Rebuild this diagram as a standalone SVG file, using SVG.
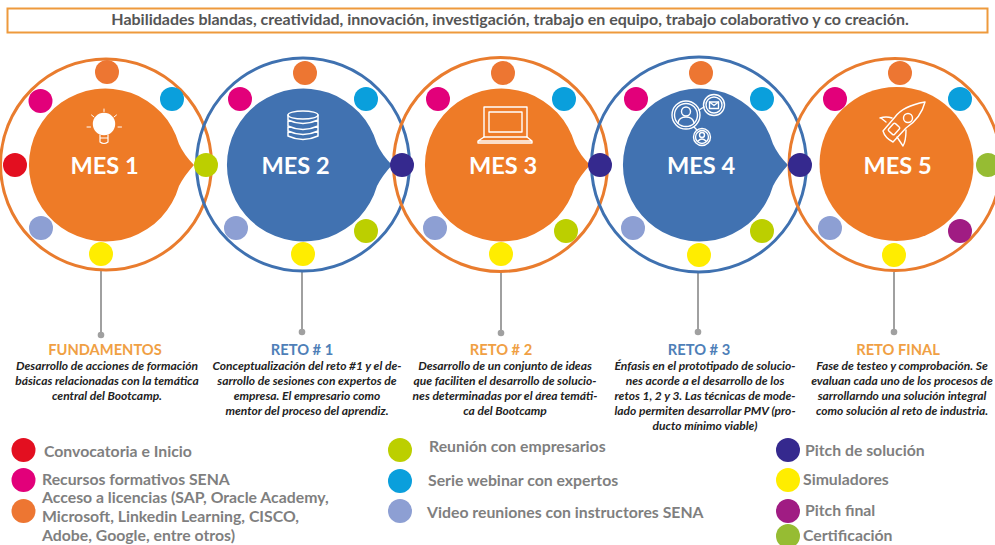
<svg xmlns="http://www.w3.org/2000/svg" width="995" height="545" viewBox="0 0 995 545">
<style>
text{font-family:"Lato","Open Sans","Liberation Sans",sans-serif}
.ro{fill:none;stroke:#e97c2e;stroke-width:3}
.rb{fill:none;stroke:#3f71b0;stroke-width:3}
.fo{fill:#ee7b27}.fb{fill:#4172b1}
.mes{font-size:23.6px;font-weight:700;fill:#fff;text-anchor:middle}
.h{font-size:14.7px;font-weight:700;text-anchor:middle}
.ho{fill:#f0a044}.hb{fill:#4f7fb8}
.d{font-size:12px;font-weight:700;font-style:italic;fill:#222;text-anchor:middle}
.l{font-size:15.8px;font-weight:700;fill:#7f7f7f}
.ic{fill:none;stroke:#fff;stroke-width:1.4;stroke-linecap:round;stroke-linejoin:round}
.stem{stroke:#a0a0a0;stroke-width:2;fill:none}
.red{fill:#e30f20}.mag{fill:#e2007a}.ora{fill:#ed7632}.cya{fill:#0a9fdc}.lim{fill:#bccf00}.nav{fill:#35298e}.yel{fill:#ffed00}.per{fill:#8d9fd3}.pur{fill:#a01c83}.grn{fill:#96bc33}
</style>
<defs>
<path id="tear" d="M73,-20A76.5,76.5 0 1 0 73,22Q78,12 88,1Q78,-9 73,-20Z"/>
<circle id="dot" r="12"/>
<circle id="ldot" r="12"/>
<circle id="pin" r="3.3" fill="#a0a0a0"/>
</defs>

<rect id="banner" x="7.5" y="8.5" width="980" height="24" fill="#fff" stroke="#ee9a3c" stroke-width="2"/>
<text x="510" y="25" font-size="16" font-weight="700" fill="#555" text-anchor="middle">Habilidades blandas, creatividad, innovación, investigación, trabajo en equipo, trabajo colaborativo y co creación.</text>

<g id="connectors">
<path class="stem" d="M101,270V335M302,271V335M501,271V335M698,272V335M894,272V335"/>
<use href="#pin" x="101" y="335"/><use href="#pin" x="302" y="332"/><use href="#pin" x="501" y="333"/><use href="#pin" x="698" y="332"/><use href="#pin" x="894" y="332"/>
</g>

<g id="mes1">
<circle class="ro" cx="106" cy="164.5" r="105.5"/>
<use href="#tear" class="fo" x="106" y="164"/>
<g class="ic">
<circle cx="104" cy="124" r="10.5" fill="#fff"/>
<path d="M100,135V142Q104,145 108,142V135M100,138H108" stroke-width="1.2"/>
<path d="M104,109V111.5M91.5,115L94,117M116.5,115L114,117M87,127H90.5M118,127H121.5" stroke-width="1"/>
</g>
<text class="mes" x="104.500" y="174">MES 1</text>
</g>

<g id="mes2">
<circle class="rb" cx="303" cy="164.500" r="106.500"/>
<use href="#tear" class="fb" x="304" y="164"/>
<g class="ic">
<ellipse cx="303" cy="115" rx="15" ry="4"/>
<path d="M288,115V136Q303,143 318,136V115M288,120Q303,127 318,120M288,126Q303,133 318,126M288,131Q303,138 318,131" stroke-width="1.5"/>
</g>
<text class="mes" x="295.500" y="174">MES 2</text>
</g>

<g id="mes3">
<circle class="ro" cx="500.500" cy="164.500" r="107"/>
<use href="#tear" class="fo" x="502" y="164"/>
<g class="ic" stroke-width="1.3">
<rect x="484" y="107" width="43" height="30"/>
<rect x="489" y="112" width="33" height="20"/>
<path d="M484,137L478,141V143H532V141L527,137M478,141H532"/>
</g>
<text class="mes" x="503" y="174">MES 3</text>
</g>

<g id="mes4">
<circle class="rb" cx="699" cy="164.500" r="107.500"/>
<use href="#tear" class="fb" x="700" y="164"/>
<g class="ic" stroke-width="1">
<circle cx="686" cy="115" r="14"/><circle cx="686" cy="115" r="11.5"/>
<circle cx="686" cy="111.5" r="4.5"/><path d="M678,123Q679,117 686,117Q693,117 694,123"/>
<circle cx="714" cy="105" r="10.5"/><circle cx="714" cy="105" r="8"/>
<rect x="709.5" y="102" width="9" height="6.5"/><path d="M709.5,102L714,105.5L718.5,102"/>
<circle cx="702" cy="137" r="8.5"/><circle cx="702" cy="137" r="6.5"/>
<circle cx="702" cy="135" r="2.5"/><path d="M698,141Q702,137 706,141"/>
<path d="M699,110L704,107M694,127L697,130"/>
</g>
<text class="mes" x="701" y="174">MES 4</text>
</g>

<g id="mes5">
<circle class="ro" cx="895" cy="164.500" r="106"/>
<circle class="fo" cx="896.500" cy="164" r="77"/>
<g class="ic" stroke-width="1.5">
<path d="M925,102Q903,106 895,117L883,131Q885,138 893,142L906,128Q921,118 925,102Z"/>
<circle cx="908" cy="118" r="4.5"/>
<rect x="890" y="124" width="8" height="10" rx="1.5" transform="rotate(42 894 129)"/>
<path d="M886,122L881,118L880,118Q886,116 892,118M897,137L903,146Q906,141 906,130"/>
</g>
<text class="mes" x="897.500" y="174">MES 5</text>
</g>

<g id="dots">
<use href="#dot" class="ora" x="107" y="72"/><use href="#dot" class="mag" x="40.500" y="101"/><use href="#dot" class="cya" x="172" y="99"/><use href="#dot" class="red" x="15" y="165"/><use href="#dot" class="lim" x="206" y="165"/><use href="#dot" class="per" x="41" y="228"/><use href="#dot" class="yel" x="101" y="254"/>
<use href="#dot" class="ora" x="305" y="73"/><use href="#dot" class="mag" x="240" y="99"/><use href="#dot" class="cya" x="366" y="99"/><use href="#dot" class="nav" x="402" y="165"/><use href="#dot" class="per" x="236" y="228"/><use href="#dot" class="lim" x="366" y="231"/><use href="#dot" class="yel" x="303" y="254"/>
<use href="#dot" class="ora" x="503" y="73"/><use href="#dot" class="mag" x="438" y="99"/><use href="#dot" class="cya" x="564" y="99"/><use href="#dot" class="nav" x="600" y="165"/><use href="#dot" class="per" x="435" y="228"/><use href="#dot" class="lim" x="566" y="231"/><use href="#dot" class="yel" x="501" y="254"/>
<use href="#dot" class="ora" x="701" y="73"/><use href="#dot" class="mag" x="636" y="99"/><use href="#dot" class="cya" x="762" y="99"/><use href="#dot" class="nav" x="800" y="165"/><use href="#dot" class="per" x="633" y="228"/><use href="#dot" class="lim" x="762" y="231"/><use href="#dot" class="yel" x="699" y="255"/>
<use href="#dot" class="ora" x="900" y="73"/><use href="#dot" class="mag" x="835" y="99"/><use href="#dot" class="cya" x="960" y="99"/><use href="#dot" class="grn" x="988" y="165"/><use href="#dot" class="per" x="830" y="228"/><use href="#dot" class="pur" x="960" y="231"/><use href="#dot" class="yel" x="894" y="255"/>
</g>

<g id="fundamentos">
<text class="h ho" x="105" y="355">FUNDAMENTOS</text>
<text class="d"><tspan x="107" y="370">Desarrollo de acciones de formación</tspan><tspan x="107" y="385">básicas relacionadas con la temática</tspan><tspan x="107" y="400">central del Bootcamp.</tspan></text>
</g>
<g id="reto1">
<text class="h hb" x="302" y="355">RETO # 1</text>
<text class="d"><tspan x="307" y="370">Conceptualización del reto #1 y el de-</tspan><tspan x="307" y="385">sarrollo de sesiones con expertos de</tspan><tspan x="307" y="400">empresa. El empresario como</tspan><tspan x="307" y="415">mentor del proceso del aprendiz.</tspan></text>
</g>
<g id="reto2">
<text class="h ho" x="501" y="355">RETO # 2</text>
<text class="d"><tspan x="505" y="370">Desarrollo de un conjunto de ideas</tspan><tspan x="505" y="385">que faciliten el desarrollo de solucio-</tspan><tspan x="505" y="400">nes determinadas por el área temáti-</tspan><tspan x="505" y="415">ca del Bootcamp</tspan></text>
</g>
<g id="reto3">
<text class="h hb" x="699" y="355">RETO # 3</text>
<text class="d"><tspan x="705" y="370">Énfasis en el prototipado de solucio-</tspan><tspan x="705" y="385">nes acorde a el desarrollo de los</tspan><tspan x="705" y="400">retos 1, 2 y 3. Las técnicas de mode-</tspan><tspan x="705" y="415">lado permiten desarrollar PMV (pro-</tspan><tspan x="705" y="430">ducto mínimo viable)</tspan></text>
</g>
<g id="retofinal">
<text class="h ho" x="898" y="355">RETO FINAL</text>
<text class="d"><tspan x="902" y="370">Fase de testeo y comprobación. Se</tspan><tspan x="902" y="385">evaluan cada uno de los procesos de</tspan><tspan x="902" y="400">sarrollarndo una solución integral</tspan><tspan x="902" y="415">como solución al reto de industria.</tspan></text>
</g>

<g id="legend">
<use href="#ldot" class="red" x="23.500" y="450"/><text class="l" x="44" y="457">Convocatoria e Inicio</text>
<use href="#ldot" class="mag" x="23.500" y="480"/><text class="l" x="42" y="485">Recursos formativos SENA</text>
<use href="#ldot" class="ora" x="23.500" y="511"/><text class="l"><tspan x="42" y="503">Acceso a licencias (SAP, Oracle Academy,</tspan><tspan x="42" y="522">Microsoft, Linkedin Learning, CISCO,</tspan><tspan x="42" y="541">Adobe, Google, entre otros)</tspan></text>
<use href="#ldot" class="lim" x="400" y="450"/><text class="l" x="429" y="452">Reunión con empresarios</text>
<use href="#ldot" class="cya" x="400" y="481"/><text class="l" x="428" y="486">Serie webinar con expertos</text>
<use href="#ldot" class="per" x="400" y="511"/><text class="l" x="427" y="518">Video reuniones con instructores SENA</text>
<use href="#ldot" class="nav" x="788" y="450"/><text class="l" x="805" y="456">Pitch de solución</text>
<use href="#ldot" class="yel" x="788" y="480"/><text class="l" x="803" y="485">Simuladores</text>
<use href="#ldot" class="pur" x="788" y="511"/><text class="l" x="805" y="516">Pitch final</text>
<use href="#ldot" class="grn" x="788" y="536"/><text class="l" x="803" y="541">Certificación</text>
</g>
</svg>
